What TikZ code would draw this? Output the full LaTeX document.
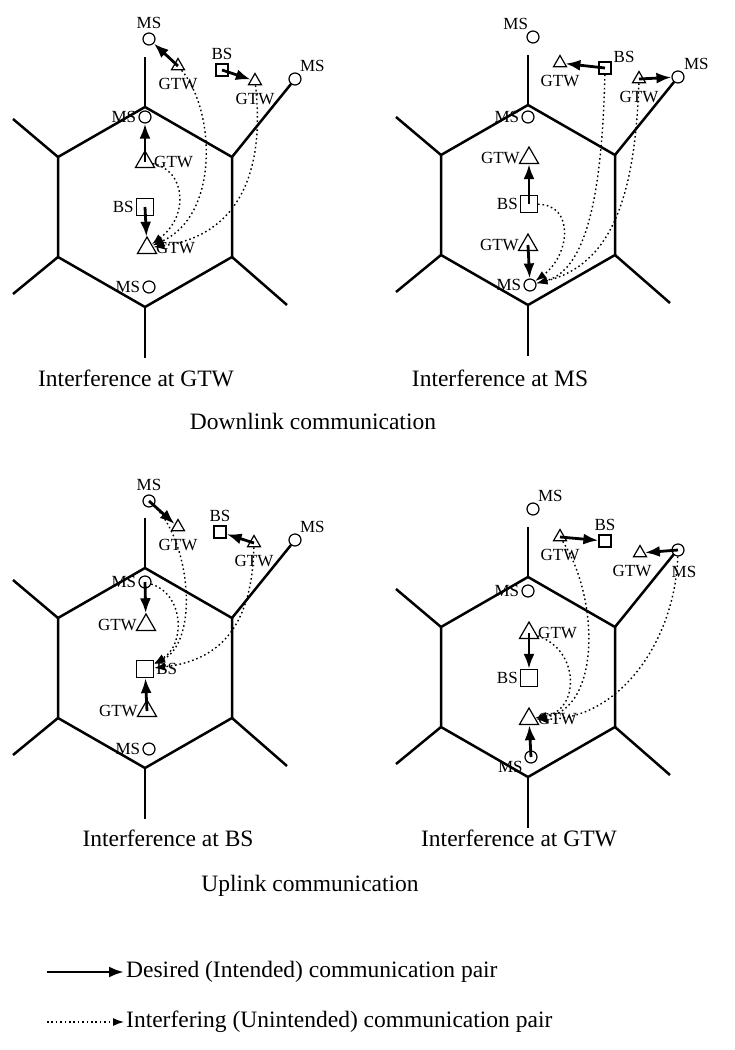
\documentclass[tikz,border=0pt]{standalone}
\usepackage{fontspec}
\setmainfont{Liberation Serif}
\usetikzlibrary{shapes.geometric,arrows.meta}

\begin{document}
\begin{tikzpicture}[x=1pt,y=-1pt,
  cell/.style={line width=2.5pt},
  ms/.style={circle,draw,line width=1.2pt,minimum size=12pt,inner sep=0pt},
  gtw/.style={regular polygon,regular polygon sides=3,draw,line width=1.2pt,minimum size=15pt,inner sep=0pt},
  bigGtw/.style={gtw,minimum size=22pt},
  bs/.style={rectangle,draw,line width=1.2pt,minimum size=12pt,inner sep=0pt},
  bigBs/.style={bs,minimum size=17pt},
  every label/.style={font=\fontsize{17}{17}\selectfont,inner sep=1pt},
  label distance=1pt,
  under/.style={label={[label distance=7pt]below:#1}},
  captxt/.style={font=\fontsize{23.5}{24}\selectfont,inner sep=2pt},
  desired/.style={line width=2.8pt,-{Latex[length=15pt,width=11pt]}},
  interf/.style={line width=1.4pt,dash pattern=on 1.6pt off 2.8pt,-{Latex[length=11pt,width=8pt]}}]
\useasboundingbox (0,0) rectangle (734,1050);

% cells
\foreach \cx/\cy in {145/207,528/205,145/668,528/677}{
  \draw[cell] (\cx,\cy-100) -- ++(87,50) -- ++(0,100) -- ++(-87,50) -- ++(-87,-50) -- ++(0,-100) -- cycle;
  \draw[cell] (\cx,\cy-100) -- ++(0,-50);
  \draw[cell] (\cx-87,\cy-50) -- ++(-45,-38);
  \draw[cell] (\cx-87,\cy+50) -- ++(-45,37);
  \draw[cell] (\cx+87,\cy+50) -- ++(55,48);
  \draw[cell] (\cx,\cy+100) -- ++(0,51);
  \draw[cell] (\cx+87,\cy-50) -- ++(59,-73);
}

% downlink, interference at GTW
\node[ms,label={[label distance=3pt]above:MS}] (m11) at (149,39) {};
\node[gtw,under=GTW] (g11) at (178,66) {};
\node[bs,label={[label distance=3pt]above:BS}] (b11) at (222,70) {};
\node[gtw,under=GTW] (g12) at (255,81) {};
\node[ms,label={60:MS}] (m12) at (295,79) {};
\node[ms,label={left:MS}] (m13) at (145,117) {};
\node[bigGtw,label={right:GTW}] (g13) at (145,162) {};
\node[bigBs,label={left:BS}] (b12) at (145,207) {};
\node[bigGtw,label={right:GTW}] (g14) at (147,248) {};
\node[ms,label={left:MS}] (m14) at (149,287) {};
\draw[desired] (g11.center) -- (m11);
\draw[desired] (b11.center) -- (g12);
\draw[desired] (g13.center) -- (m13);
\draw[desired] (b12.center) -- (g14);
\draw[interf] (g11) .. controls (215,110) and (220,215) .. (g14);
\draw[interf] (g13) .. controls (185,170) and (190,215) .. (g14);
\draw[interf] (g12) .. controls (265,170) and (240,235) .. (g14);

% downlink, interference at MS
\node[ms,label={120:MS}] (m21) at (533,37) {};
\node[gtw,under=GTW] (g21) at (560,63) {};
\node[bs,label={30:BS}] (b21) at (605,68) {};
\node[gtw,under=GTW] (g22) at (639,79) {};
\node[ms,label={50:MS}] (m22) at (678,77) {};
\node[ms,label={left:MS}] (m23) at (528,117) {};
\node[bigGtw,label={left:GTW}] (g23) at (529,158) {};
\node[bigBs,label={left:BS}] (b22) at (529,204) {};
\node[bigGtw,label={left:GTW}] (g24) at (528,245) {};
\node[ms,label={left:MS}] (m24) at (530,285) {};
\draw[desired] (b21.center) -- (g21);
\draw[desired] (g22.center) -- (m22);
\draw[desired] (b22.center) -- (g23);
\draw[desired] (g24.center) -- (m24);
\draw[interf] (b22) .. controls (575,205) and (570,255) .. (m24);
\draw[interf] (b21) .. controls (602,200) and (585,270) .. (m24);
\draw[interf] (g22) .. controls (635,200) and (610,265) .. (m24);

% uplink, interference at BS
\node[ms,label={[label distance=3pt]above:MS}] (m31) at (149,501) {};
\node[gtw,under=GTW] (g31) at (178,527) {};
\node[bs,label={[label distance=3pt]above:BS}] (b31) at (220,532) {};
\node[gtw,under=GTW] (g32) at (254,543) {};
\node[ms,label={60:MS}] (m32) at (295,540) {};
\node[ms,label={left:MS}] (m33) at (145,582) {};
\node[bigGtw,label={left:GTW}] (g33) at (146,625) {};
\node[bigBs,label={right:BS}] (b32) at (145,669) {};
\node[bigGtw,label={left:GTW}] (g34) at (147,711) {};
\node[ms,label={left:MS}] (m34) at (149,749) {};
\draw[desired] (m31.center) -- (g31);
\draw[desired] (g32.center) -- (b31);
\draw[desired] (m33.center) -- (g33);
\draw[desired] (g34.center) -- (b32);
\draw[interf] (m31) .. controls (190,540) and (200,640) .. (b32);
\draw[interf] (m33) .. controls (185,595) and (185,645) .. (b32);
\draw[interf] (g32) .. controls (252,620) and (225,660) .. (b32);

% uplink, interference at GTW
\node[ms,label={60:MS}] (m41) at (533,509) {};
\node[gtw,under=GTW] (g41) at (560,537) {};
\node[bs,label={[label distance=3pt]above:BS}] (b41) at (605,541) {};
\node[gtw,label={[label distance=7pt,xshift=-8pt]below:GTW}] (g42) at (640,553) {};
\node[ms,label={[label distance=8pt,xshift=6pt]below:MS}] (m42) at (678,550) {};
\node[ms,label={left:MS}] (m43) at (528,591) {};
\node[bigGtw,label={right:GTW}] (g43) at (529,633) {};
\node[bigBs,label={left:BS}] (b42) at (529,678) {};
\node[bigGtw,label={right:GTW}] (g44) at (529,719) {};
\node[ms,label={200:MS}] (m44) at (531,757) {};
\draw[desired] (g41.center) -- (b41);
\draw[desired] (m42.center) -- (g42);
\draw[desired] (g43.center) -- (b42);
\draw[desired] (m44.center) -- (g44);
\draw[interf] (g43) .. controls (580,650) and (580,710) .. (g44);
\draw[interf] (g41) .. controls (600,600) and (600,710) .. (g44);
\draw[interf] (m42) .. controls (675,640) and (620,720) .. (g44);

% captions
\node[captxt] (capGtwDown) at (136,378) {Interference at GTW};
\node[captxt] (capMs) at (500,378) {Interference at MS};
\node[captxt] (capDown) at (313,421) {Downlink communication};
\node[captxt] (capBs) at (168,838) {Interference at BS};
\node[captxt] (capGtwUp) at (519,838) {Interference at GTW};
\node[captxt] (capUp) at (310,886) {Uplink communication};

% legend
\coordinate (ldes) at (47,972);
\node[captxt,anchor=west] (tdes) at (124,972) {Desired (Intended) communication pair};
\draw[desired] (ldes) -- (tdes.west);
\coordinate (lint) at (47,1022);
\node[captxt,anchor=west] (tint) at (124,1022) {Interfering (Unintended) communication pair};
\draw[interf] (lint) -- (tint.west);
\end{tikzpicture}
\end{document}
